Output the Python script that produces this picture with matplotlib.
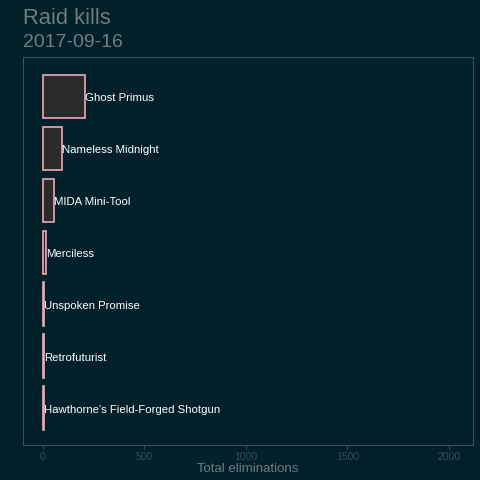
import numpy as np
import matplotlib.pyplot as plt

plt.rcParams['font.family'] = ['Liberation Sans', 'DejaVu Sans']

weapons = ["Ghost Primus", "Nameless Midnight", "MIDA Mini-Tool", "Merciless",
           "Unspoken Promise", "Retrofuturist", "Hawthorne's Field-Forged Shotgun"]
kills = [207, 95, 55, 15, 5, 4, 3]

bg = "#02202a"
fig = plt.figure(figsize=(4.8, 4.8), dpi=100, facecolor=bg)
ax = fig.add_axes([0.048, 0.073, 0.937, 0.808], facecolor=bg)

y = np.arange(len(weapons))[::-1]
ax.barh(y, kills, height=0.83, color="#2b2b2b", edgecolor="#f4a6b8", linewidth=1.2)
for yi, k, name in zip(y, kills, weapons):
    ax.text(k, yi - 0.03, name, color="white", fontsize=8.2, va="center", ha="left")

ax.set_xlim(-98, 2118)
ax.set_ylim(-0.71, 6.75)
ax.set_xticks([0, 500, 1000, 1500, 2000])
ax.set_yticks([])
ax.tick_params(axis="x", colors="#3a4c54", labelcolor="#3a4c54", labelsize=7.5, length=3, pad=2)
for s in ax.spines.values():
    s.set_color("#3a545d")
    s.set_linewidth(0.8)
ax.set_xlabel("Total eliminations", color="#6a7b82", fontsize=9.5, labelpad=1)

fig.text(0.048, 0.95, "Raid kills", color="#6f7d82", fontsize=15.8, ha="left", va="baseline")
fig.text(0.048, 0.902, "2017-09-16", color="#6f7d82", fontsize=14, ha="left", va="baseline")

fig.savefig("out.png", dpi=100, facecolor=bg)
